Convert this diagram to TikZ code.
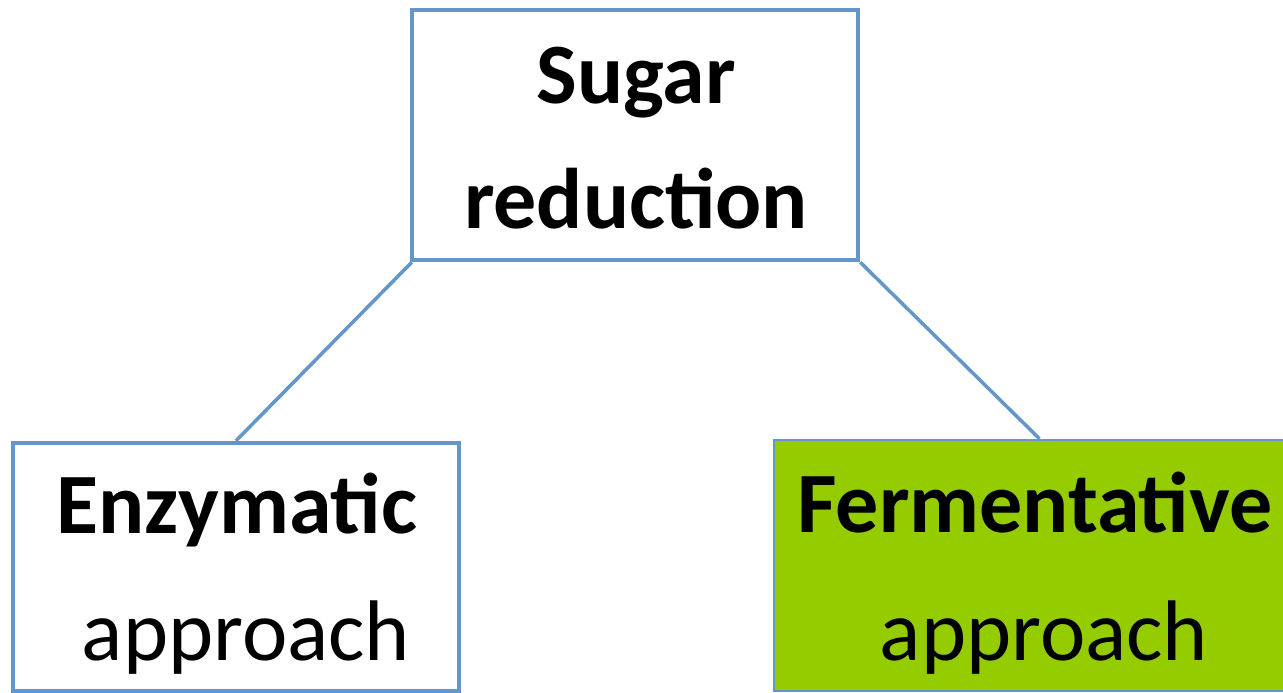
\documentclass[tikz,border=0pt]{standalone}
\usepackage{fontspec}
\setmainfont{Carlito}
\definecolor{boxblue}{RGB}{99,150,202}
\definecolor{leafgreen}{RGB}{148,204,0}
\tikzset{
  frame/.style={draw=boxblue, line width=4.5pt, fill=white, rectangle, inner sep=0pt},
  greenframe/.style={draw=boxblue, line width=2.5pt, fill=leafgreen, rectangle, inner sep=0pt},
  link/.style={draw=boxblue, line width=3.5pt},
  boldlabel/.style={anchor=base, inner sep=0pt, font=\fontsize{86}{100}\selectfont\bfseries},
  plainlabel/.style={anchor=base, inner sep=0pt, font=\fontsize{86}{100}\selectfont},
}
\begin{document}
\begin{tikzpicture}[x=1pt, y=-1pt]
  \useasboundingbox (0,0) rectangle (1283,693);
  \begin{scope}
    \clip (0,0) rectangle (1283,693);
    % boxes
    \node[frame, minimum width=446pt, minimum height=250pt] (top) at (635,135) {};
    \node[frame, minimum width=446pt, minimum height=248pt] (left) at (236,567) {};
    \node[greenframe, minimum width=523pt, minimum height=251pt] (right) at (1035.5,565.5) {};
    % connectors
    \draw[link] ([xshift=2pt]top.south west) -- (left.north);
    \draw[link] (top.south east) -- ([xshift=4pt]right.north);
    % labels
    \node[boldlabel] (t1) at (636,103) {Sugar};
    \node[boldlabel] (t2) at (636,228) {reduction};
    \node[boldlabel] (l1) at (237,533) {Enzymatic};
    \node[plainlabel] (l2) at (246,660) {approach};
    \node[boldlabel] (r1) at (1035,532) {Fermentative};
    \node[plainlabel] (r2) at (1044,660) {approach};
  \end{scope}
\end{tikzpicture}
\end{document}
